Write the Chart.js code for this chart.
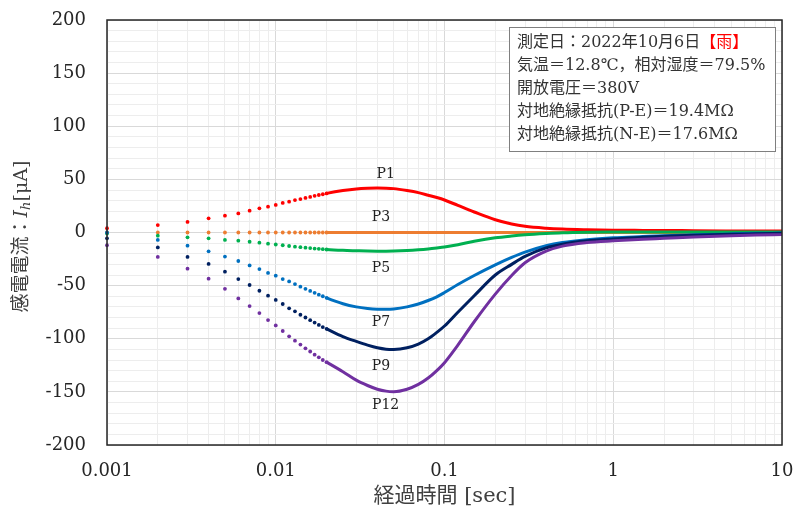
<!DOCTYPE html>
<html>
<head>
<meta charset="utf-8">
<script src="https://cdn.jsdelivr.net/npm/chart.js@4.4.1/dist/chart.umd.min.js"></script>
<style>
  html, body { margin: 0; padding: 0; background: #fff; }
</style>
</head>
<body>
<canvas id="chart" width="796" height="515"></canvas>
<script>
// elapsed time [sec]
const times = [
  0.001, 0.002, 0.003, 0.004, 0.005, 0.006, 0.007, 0.008, 0.009, 0.010,
  0.011, 0.012, 0.013, 0.014, 0.015, 0.016, 0.017, 0.018, 0.019, 0.020,
  0.025, 0.03, 0.035, 0.04, 0.045, 0.05, 0.06, 0.07, 0.08, 0.09, 0.1,
  0.12, 0.15, 0.2, 0.25, 0.3, 0.4, 0.5, 0.7, 1, 1.5, 2, 3, 5, 7, 10
];

// shock current Ih [uA] per point
const p1 = [
  4, 7, 10, 13.3, 15.8, 18, 20.5, 22.8, 24.3, 26,
  27.8, 29, 30.5, 31.5, 32.5, 33.5, 34.5, 35.3, 36, 36.8,
  39.5, 41, 41.6, 41.8, 41.7, 41.3, 39.5, 37.5, 35.1, 32.9, 30.6,
  25.5, 19.3, 12, 8, 5.8, 4, 3.2, 2.6, 2.2, 2, 1.9, 1.7, 1.5, 1.4, 1.3
];
const p3 = [
  0, 0, 0, 0, 0, 0, 0, 0, 0, 0,
  0, 0, 0, 0, 0, 0, 0, 0, 0, 0,
  0, 0, 0, 0, 0, 0, 0, 0, 0, 0, 0,
  0, 0, 0, 0, 0, 0, 0, 0, 0, 0, 0, 0, 0, 0, 0
];
const p5 = [
  -1, -3, -4.5, -5.5, -7, -7.7, -8.7, -9.6, -10.5, -11.3,
  -12, -12.7, -13.3, -13.8, -14.3, -14.7, -15.1, -15.4, -15.7, -16,
  -16.8, -17.2, -17.5, -17.6, -17.6, -17.5, -17, -16.3, -15.5, -14.6, -13.7,
  -11.5, -8.3, -5, -3.3, -2.2, -1, -0.3, 0.2, 0.4, 0.5, 0.5, 0.5, 0.5, 0.5, 0.5
];
const p7 = [
  0, -7, -12.4, -17.7, -22.7, -26.8, -31, -34.4, -38, -40.6,
  -43.8, -46, -48.5, -51, -53, -55, -56.8, -58.5, -60, -61.5,
  -67, -70, -71.5, -72.2, -72.3, -72, -70, -67.3, -64, -60.5, -56.5,
  -49, -40.5, -30.5, -23.5, -18.5, -12.5, -9.5, -6.8, -5, -3.8, -3, -2.2, -1.3, -0.8, -0.5
];
const p9 = [
  -5.5, -14, -23, -29.6, -36.9, -43.8, -49.4, -54.8, -59.5, -63.5,
  -67.3, -71.4, -74.2, -77.4, -80, -82.5, -84.8, -87, -89, -90.7,
  -98, -102.5, -106, -108.5, -109.8, -110, -108.5, -105, -100, -94, -88,
  -75, -59.5, -40, -30, -22.5, -14.5, -11, -7.8, -6, -4.5, -3.5, -2.5, -1.6, -1.2, -0.8
];
const p12 = [
  -12, -23, -34, -43.5, -53, -62, -69.2, -75.8, -82.4, -87.5,
  -92.7, -97.7, -101.8, -105.5, -109, -112, -115, -117.5, -120, -122,
  -131, -139, -144, -147.5, -149.3, -149.8, -147.5, -143, -137, -130, -122.5,
  -106, -84, -58, -40.5, -28.5, -17.5, -12.8, -9.5, -7.8, -6.3, -5.5, -4.3, -3, -2.4, -2
];

const seriesNames = ['P1', 'P3', 'P5', 'P7', 'P9', 'P12'];
const seriesValues = [p1, p3, p5, p7, p9, p12];
const seriesColors = ['#ff0000', '#ed7d31', '#00b050', '#0070c0', '#002060', '#7030a0'];

// where each series name is written (data units)
const labelX = [0.0448, 0.042, 0.042, 0.042, 0.042, 0.0448];
const labelY = [55, 14.6, -33.4, -85, -125.6, -163];

const xTickLabels = ['0.001', '0.01', '0.1', '1', '10'];
const yMin = -200, yMax = 200, yStep = 50, yMinor = 10;

const infoLines = [
  [['測定日：2022年10月6日', '#333'], ['【雨】', '#ff0000']],
  [['気温＝12.8℃，相対湿度＝79.5%', '#333']],
  [['開放電圧＝380V', '#333']],
  [['対地絶縁抵抗(P-E)＝19.4MΩ', '#333']],
  [['対地絶縁抵抗(N-E)＝17.6MΩ', '#333']]
];

const SERIF = '"DejaVu Serif", "Noto Sans CJK JP", serif';
const JP = '"DejaVu Serif", "Noto Sans CJK JP", sans-serif';
const DOT_LIMIT = 0.0205;

const datasets = seriesNames.map((name, i) => ({
  label: name,
  data: times.map((t, k) => ({ x: t, y: seriesValues[i][k] })),
  borderColor: seriesColors[i],
  backgroundColor: seriesColors[i],
  borderWidth: 3,
  pointBorderWidth: 0,
  pointRadius: ctx => (ctx.raw && ctx.raw.x < DOT_LIMIT ? 1.9 : 0),
  cubicInterpolationMode: 'monotone',
  segment: {
    borderColor: ctx => (ctx.p0.parsed.x < DOT_LIMIT - 0.001 ? 'rgba(0,0,0,0)' : undefined)
  },
  order: seriesNames.length - i,
  clip: 4
}));

function isDecade(v) {
  const l = Math.log10(v);
  return Math.abs(l - Math.round(l)) < 1e-9;
}

const decorations = {
  id: 'decorations',
  afterDatasetsDraw(chart) {
    const { ctx, chartArea: a, scales } = chart;
    ctx.save();

    // series names
    ctx.font = '14px ' + SERIF;
    ctx.fillStyle = '#222';
    ctx.textAlign = 'center';
    ctx.textBaseline = 'middle';
    seriesNames.forEach((name, i) => {
      ctx.fillText(name, scales.x.getPixelForValue(labelX[i]), scales.y.getPixelForValue(labelY[i]));
    });

    // plot frame
    ctx.strokeStyle = '#262626';
    ctx.lineWidth = 1.5;
    ctx.strokeRect(a.left, a.top, a.right - a.left, a.bottom - a.top);

    // info box
    const bx = 509, by = 27, bw = 266, bh = 124;
    ctx.fillStyle = '#fff';
    ctx.fillRect(bx, by, bw, bh);
    ctx.strokeStyle = '#7f7f7f';
    ctx.lineWidth = 1;
    ctx.strokeRect(bx + 0.5, by + 0.5, bw, bh);
    ctx.font = '16px ' + JP;
    ctx.textAlign = 'left';
    infoLines.forEach((parts, li) => {
      let x = bx + 8;
      const y = by + 16 + li * 23;
      parts.forEach(([txt, col]) => {
        ctx.fillStyle = col;
        ctx.fillText(txt, x, y);
        x += ctx.measureText(txt).width;
      });
    });

    // x title
    ctx.fillStyle = '#404040';
    ctx.font = '21px ' + JP;
    ctx.textAlign = 'center';
    ctx.fillText('経過時間 [sec]', (a.left + a.right) / 2, 497);

    // y title with italic I and subscript h
    const parts = [
      ['感電電流：', '19px ' + JP, 0],
      ['I', 'italic 19px ' + SERIF, 0],
      ['h', 'italic 13px ' + SERIF, 5],
      ['[μA]', '19px ' + SERIF, 0]
    ];
    let total = 0;
    parts.forEach(p => { ctx.font = p[1]; total += ctx.measureText(p[0]).width; });
    ctx.translate(22, (a.top + a.bottom) / 2 + 4);
    ctx.rotate(-Math.PI / 2);
    ctx.textAlign = 'left';
    let px = -total / 2;
    parts.forEach(p => {
      ctx.font = p[1];
      ctx.fillText(p[0], px, p[2]);
      px += ctx.measureText(p[0]).width;
    });
    ctx.restore();
  }
};

new Chart(document.getElementById('chart').getContext('2d'), {
  type: 'scatter',
  data: { datasets },
  plugins: [decorations],
  options: {
    responsive: false,
    animation: false,
    devicePixelRatio: 1,
    showLine: true,
    layout: { padding: { left: 0, top: 20, right: 14, bottom: 0 } },
    plugins: { legend: { display: false }, tooltip: { enabled: false } },
    scales: {
      x: {
        type: 'logarithmic',
        min: 0.001,
        max: 10,
        afterBuildTicks(scale) {
          const ticks = [];
          for (let e = -3; e < 1; e++) {
            for (let k = 1; k < 10; k++) ticks.push({ value: Number((k * Math.pow(10, e)).toPrecision(3)) });
          }
          ticks.push({ value: 10 });
          scale.ticks = ticks;
        },
        afterFit(scale) {
          scale.height = 70;
          scale.paddingLeft = 0;
          scale.paddingRight = 0;
        },
        grid: {
          drawTicks: false,
          color: ctx => (ctx.tick && isDecade(ctx.tick.value) ? '#d9d9d9' : '#ededed'),
          lineWidth: 1
        },
        border: { display: false },
        ticks: {
          autoSkip: false,
          maxRotation: 0,
          padding: 16,
          color: '#262626',
          font: { family: SERIF, size: 18 },
          callback: v => (isDecade(v) ? xTickLabels[Math.round(Math.log10(v)) + 3] : '')
        }
      },
      y: {
        min: yMin,
        max: yMax,
        afterFit(scale) {
          scale.width = 107;
          scale.paddingTop = 0;
          scale.paddingBottom = 0;
        },
        grid: {
          drawTicks: false,
          color: ctx => (ctx.tick && ctx.tick.value % yStep === 0 ? '#d9d9d9' : '#ededed'),
          lineWidth: 1
        },
        border: { display: false },
        ticks: {
          stepSize: yMinor,
          autoSkip: false,
          padding: 21,
          color: '#262626',
          font: { family: SERIF, size: 18 },
          callback: v => (v % yStep === 0 ? String(v) : '')
        }
      }
    }
  }
});
</script>
</body>
</html>
